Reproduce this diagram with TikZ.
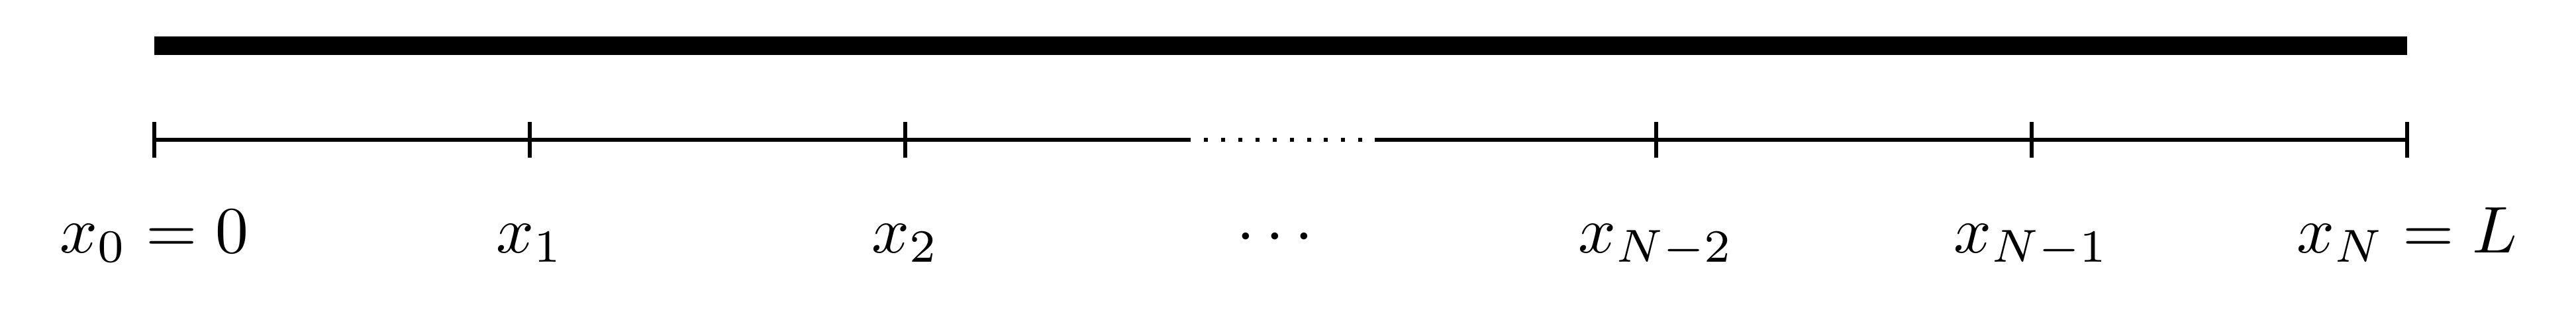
\documentclass[tikz,border=0pt]{standalone}
\usepackage{amsmath, amssymb, amsfonts}
\usepackage{tikz}
\usetikzlibrary{calc}

\begin{document}
\begin{tikzpicture}[semithick]
  \useasboundingbox (-0.822, -0.970) rectangle (12.90, 0.744);

  % the rod
  \draw[line width=2.8pt] (0, 0.5) -- (12, 0.5);

  % the grid
  \coordinate (a) at (5.5, 0);
  \coordinate (b) at (6.5, 0);
  \draw (0, 0) -- (a);
  \draw[dotted] (a) -- (b);
  \draw (b) -- (12, 0);

  \draw (0, -0.095) -- (0, 0.095);
  \draw (2, -0.095) -- (2, 0.095);
  \draw (4, -0.095) -- (4, 0.095);
  \draw (8, -0.095) -- (8, 0.095);
  \draw (10, -0.095) -- (10, 0.095);
  \draw (12, -0.095) -- (12, 0.095);

  \node[anchor=base] (x0) at (0, -0.6) {$x_0 = 0$};
  \node[anchor=base] (x1) at (2, -0.6) {$x_1$};
  \node[anchor=base] (x2) at (4, -0.6) {$x_2$};
  \node[anchor=base] (dots) at (6, -0.6) {$\cdots$};
  \node[anchor=base] (xNm2) at (8, -0.6) {$x_{N-2}$};
  \node[anchor=base] (xNm1) at (10, -0.6) {$x_{N-1}$};
  \node[anchor=base] (xN) at (12, -0.6) {$x_N = L$};
\end{tikzpicture}
\end{document}
